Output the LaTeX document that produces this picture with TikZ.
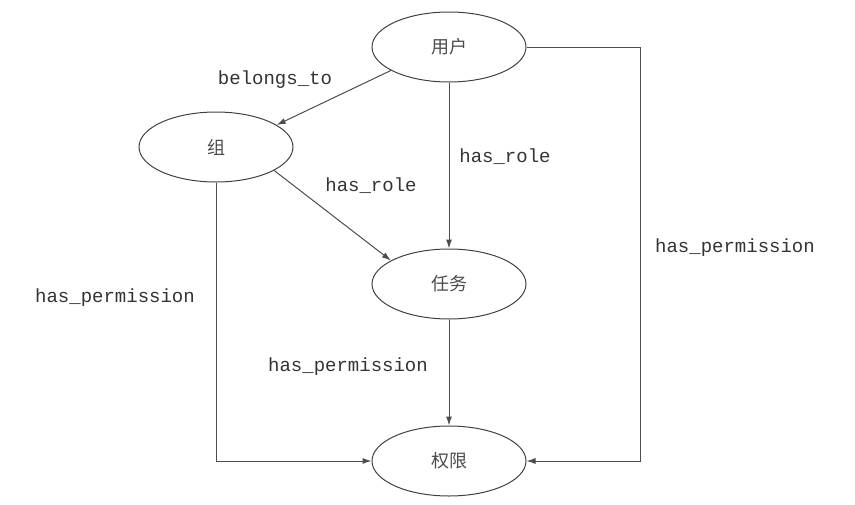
\documentclass[tikz,border=0pt]{standalone}
\usepackage{fontspec}
\usepackage{tikz}
\usetikzlibrary{arrows, arrows.meta, positioning, shapes.geometric}
\newfontfamily\cjk{Noto Sans CJK SC}
\newfontfamily\monofont{Liberation Mono}
\tikzstyle{entity} = [ellipse, minimum width=154pt, minimum height=70pt, inner sep=0pt, draw=black!75, line width=1pt, text=black!70, font={\cjk\fontsize{18pt}{21pt}\selectfont}]
\tikzstyle{relation} = [text=black!80, inner sep=0pt, font={\monofont\fontsize{19pt}{22pt}\selectfont}]
\tikzstyle{arrow} = [draw=black!70, line width=1pt, -{Latex[length=9pt, width=6pt]}]

\begin{document}
\begin{tikzpicture}[x=1pt, y=-1pt, node distance = 2cm]
    \useasboundingbox (0,0) rectangle (855,504);

    \node (user) [entity] at (449,47) {用户};
    \node (group) [entity, left of=user, node distance=233pt, yshift=-100pt] {组};
    \node (task) [entity, below of=user, node distance=237pt] {任务};
    \node (perm) [entity, below of=task, node distance=177pt] {权限};

    \coordinate[right=114pt of user.east] (c1);

    \draw [arrow] (user.202) -- (group.20);
    \draw [arrow] (user) -- (task);
    \draw [arrow] (group.-22) -- (task.158);
    \draw [arrow] (task) -- (perm);
    \draw [arrow] (group) |- (perm);
    \draw [arrow] (user.east) -- (c1) |- (perm.east);

    \node (belongs) [relation] at (275,80) {belongs\_to};
    \node (roleuser) [relation] at (505,157) {has\_role};
    \node (rolegroup) [relation] at (371,186) {has\_role};
    \node (permuser) [relation] at (735,248) {has\_permission};
    \node (permgroup) [relation] at (115,298) {has\_permission};
    \node (permtask) [relation] at (348,367) {has\_permission};
\end{tikzpicture}
\end{document}
